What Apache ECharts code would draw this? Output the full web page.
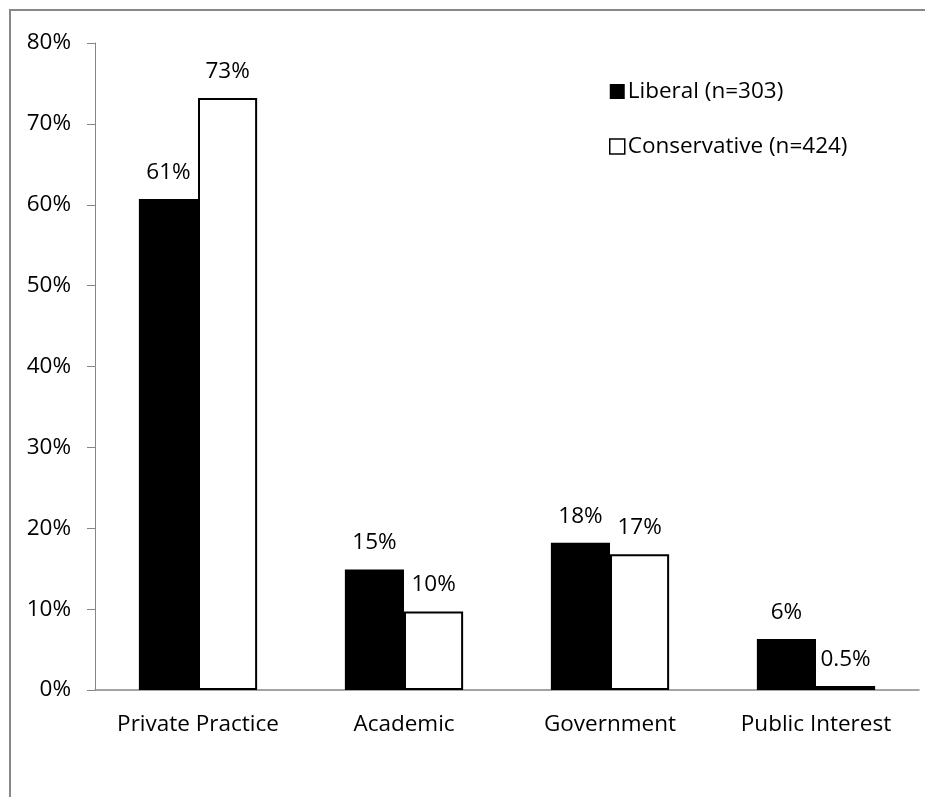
<!DOCTYPE html>
<html>
<head>
<meta charset="utf-8">
<script src="https://cdn.jsdelivr.net/npm/echarts@6/dist/echarts.min.js"></script>
<style>
html,body{margin:0;padding:0;background:#fff;}
#chart{width:925px;height:797px;}
</style>
</head>
<body>
<div id="chart"></div>
<script>
const categories = ['Private Practice', 'Academic', 'Government', 'Public Interest'];
const liberalValues = [60.7, 14.9, 18.2, 6.3];
const conservativeValues = [73.2, 9.7, 16.8, 0.5];
const liberalLabels = ['61%', '15%', '18%', '6%'];
const conservativeLabels = ['73%', '10%', '17%', '0.5%'];
const seriesNames = ['Liberal (n=303)', 'Conservative (n=424)'];
const yTicks = [0, 10, 20, 30, 40, 50, 60, 70, 80];

const FONT = 'Open Sans';
const FS = 22.5;
const chart = echarts.init(document.getElementById('chart'), null, {renderer: 'canvas'});
chart.setOption({
  animation: false,
  backgroundColor: '#fff',
  textStyle: {fontFamily: FONT},
  graphic: [{
    type: 'rect',
    shape: {x: 10, y: 10, width: 940, height: 820},
    style: {fill: 'none', stroke: '#888888', lineWidth: 2},
    silent: true,
    z: -10
  }],
  legend: {
    orient: 'vertical',
    left: 604,
    top: 75,
    itemWidth: 15,
    itemHeight: 15,
    itemGap: 32,
    icon: 'rect',
    textStyle: {fontFamily: FONT, fontSize: FS, color: '#000', padding: [0, 0, 0, -2]},
    data: [
      {name: seriesNames[0], itemStyle: {color: '#000', borderColor: '#000', borderWidth: 0}},
      {name: seriesNames[1], itemStyle: {color: '#fff', borderColor: '#000', borderWidth: 1.5}}
    ]
  },
  grid: {left: 95, right: 6, top: 43, bottom: 107, containLabel: false},
  xAxis: {
    type: 'category',
    data: categories,
    axisLine: {lineStyle: {color: '#868686', width: 1.5}},
    axisTick: {show: false},
    axisLabel: {fontFamily: FONT, fontSize: FS, color: '#000', margin: 23, interval: 0}
  },
  yAxis: {
    type: 'value',
    min: yTicks[0],
    max: yTicks[yTicks.length - 1],
    interval: 10,
    axisLine: {show: true, lineStyle: {color: '#868686', width: 1}},
    axisTick: {show: true, length: 8, lineStyle: {color: '#868686'}},
    splitLine: {show: false},
    axisLabel: {fontFamily: FONT, fontSize: FS, color: '#000', margin: 24, formatter: v => v + '%'}
  },
  series: [
    {
      name: seriesNames[0],
      type: 'bar',
      data: liberalValues,
      barGap: '0%',
      barCategoryGap: '42.6%',
      itemStyle: {color: '#000'},
      label: {
        show: true, position: 'top', distance: 15,
        fontFamily: FONT, fontSize: FS, color: '#000',
        formatter: p => liberalLabels[p.dataIndex]
      }
    },
    {
      name: seriesNames[1],
      type: 'bar',
      data: conservativeValues,
      barGap: '0%',
      barCategoryGap: '42.6%',
      itemStyle: {color: '#fff', borderColor: '#000', borderWidth: 2},
      label: {
        show: true, position: 'top', distance: 15,
        fontFamily: FONT, fontSize: FS, color: '#000',
        formatter: p => conservativeLabels[p.dataIndex]
      }
    }
  ]
});
</script>
</body>
</html>
